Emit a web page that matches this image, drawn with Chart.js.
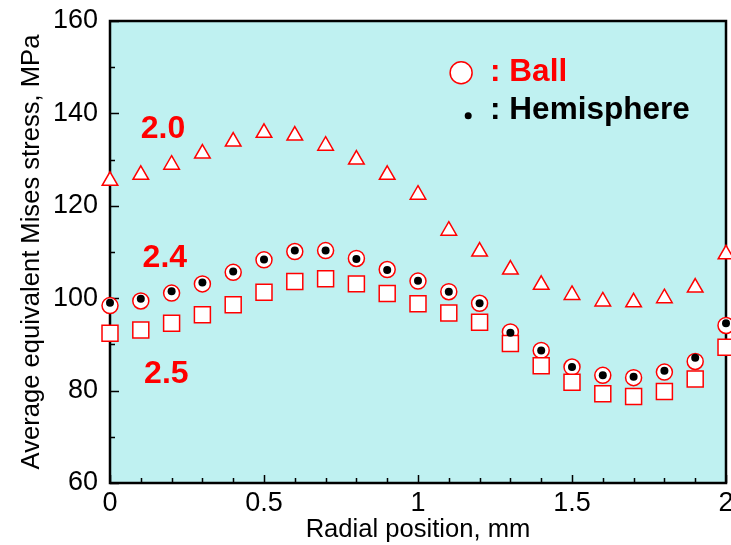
<!DOCTYPE html>
<html>
<head>
<meta charset="utf-8">
<script src="https://cdn.jsdelivr.net/npm/chart.js@4.4.1/dist/chart.umd.min.js"></script>
<style>
  html, body { margin: 0; padding: 0; background: #ffffff; }
  #wrap { width: 731px; height: 545px; }
</style>
</head>
<body>
<div id="wrap"><canvas id="stressChart" width="731" height="545"></canvas></div>
<script>
// Radial positions (mm)
const radialPos = [0, 0.1, 0.2, 0.3, 0.4, 0.5, 0.6, 0.7, 0.8, 0.9, 1.0,
                   1.1, 1.2, 1.3, 1.4, 1.5, 1.6, 1.7, 1.8, 1.9, 2.0];

// Average equivalent Mises stress (MPa)
const stress20 = [125.4, 126.7, 128.9, 131.3, 133.9, 135.8, 135.2, 133.0, 130.0, 126.7, 122.4,
                  114.6, 110.1, 106.2, 102.9, 100.7, 99.3, 99.1, 100.0, 102.3, 109.5];
const stress24Ball = [98.4, 99.4, 101.1, 103.1, 105.6, 108.3, 110.1, 110.3, 108.6, 106.2, 103.7,
                      101.4, 98.9, 92.7, 88.7, 85.1, 83.3, 82.8, 84.0, 86.3, 94.1];
const stress24Hemi = [99.0, 99.9, 101.5, 103.4, 105.8, 108.4, 110.3, 110.3, 108.5, 106.1, 103.8,
                      101.4, 98.9, 92.5, 88.7, 85.1, 83.3, 83.0, 84.3, 87.1, 94.6];
const stress25 = [92.4, 93.1, 94.6, 96.4, 98.6, 101.3, 103.6, 104.2, 103.1, 101.0, 98.8,
                  96.8, 94.8, 90.2, 85.4, 81.8, 79.3, 78.7, 79.8, 82.5, 89.4];

// Axis ranges and ticks
const xMin = 0, xMax = 2, xStep = 0.5, xMinorStep = 0.1;
const yMin = 60, yMax = 160, yStep = 20, yMinorStep = 10;

// Annotation texts placed in data coordinates
const seriesLabels = [
    { text: '2.0', x: 0.172, y: 136.6 },
    { text: '2.4', x: 0.178, y: 108.6 },
    { text: '2.5', x: 0.183, y: 83.6 }
];
const legendItems = [
    { text: ': Ball', x: 1.14, y: 148.8, color: '#ff0000' },
    { text: ': Hemisphere', x: 1.163, y: 140.6, color: '#000000' }
];

const RED = '#ff0000';
const FONT = '"Liberation Sans", Arial, sans-serif';

const toPoints = (ys) => radialPos.map((x, i) => ({ x: x, y: ys[i] }));

// Plot background, frame and inward ticks
const framePlugin = {
    id: 'frame',
    beforeDatasetsDraw(chart) {
        const { ctx, chartArea: a, scales } = chart;
        ctx.save();
        ctx.fillStyle = '#bff1f1';
        ctx.fillRect(a.left, a.top, a.right - a.left, a.bottom - a.top);

        ctx.strokeStyle = '#000000';
        ctx.lineWidth = 1.5;
        ctx.beginPath();
        for (let v = yMin; v <= yMax + 1e-9; v += yMinorStep) {
            const py = Math.round(scales.y.getPixelForValue(v)) + 0.5;
            const len = (Math.round(v) % yStep === 0) ? 9 : 5;
            ctx.moveTo(a.left, py);
            ctx.lineTo(a.left + len, py);
        }
        for (let i = 0; i <= Math.round((xMax - xMin) / xMinorStep); i++) {
            const v = xMin + i * xMinorStep;
            const px = Math.round(scales.x.getPixelForValue(v)) + 0.5;
            const len = (i % 5 === 0) ? 8 : 5;
            ctx.moveTo(px, a.bottom);
            ctx.lineTo(px, a.bottom - len);
        }
        ctx.stroke();

        ctx.lineWidth = 2.5;
        ctx.strokeRect(a.left, a.top, a.right - a.left, a.bottom - a.top);
        ctx.restore();
    },
    afterDatasetsDraw(chart) {
        const { ctx, scales } = chart;
        ctx.save();
        ctx.textBaseline = 'middle';

        // series labels
        ctx.font = 'bold 32px ' + FONT;
        ctx.fillStyle = RED;
        ctx.textAlign = 'center';
        seriesLabels.forEach(l => {
            ctx.fillText(l.text, scales.x.getPixelForValue(l.x), scales.y.getPixelForValue(l.y));
        });

        // legend
        const ball = legendItems[0];
        const hemi = legendItems[1];
        const bx = scales.x.getPixelForValue(ball.x);
        const by = scales.y.getPixelForValue(ball.y);
        ctx.beginPath();
        ctx.arc(bx, by, 11, 0, Math.PI * 2);
        ctx.fillStyle = '#ffffff';
        ctx.fill();
        ctx.strokeStyle = RED;
        ctx.lineWidth = 1.5;
        ctx.stroke();

        const hx = scales.x.getPixelForValue(hemi.x);
        const hy = scales.y.getPixelForValue(hemi.y);
        ctx.beginPath();
        ctx.arc(hx, hy + 5, 3.5, 0, Math.PI * 2);
        ctx.fillStyle = '#000000';
        ctx.fill();

        ctx.font = 'bold 31.5px ' + FONT;
        ctx.textAlign = 'left';
        ctx.fillStyle = ball.color;
        ctx.fillText(ball.text, bx + 29, by);
        ctx.fillStyle = hemi.color;
        ctx.fillText(hemi.text, bx + 29, hy);
        ctx.restore();
    }
};

const ctx = document.getElementById('stressChart').getContext('2d');
new Chart(ctx, {
    type: 'scatter',
    data: {
        datasets: [
            {
                label: '2.0',
                data: toPoints(stress20),
                pointStyle: 'triangle',
                pointRadius: 9,
                borderColor: RED,
                backgroundColor: '#ffffff',
                borderWidth: 1.5,
                order: 3
            },
            {
                label: '2.4 Ball',
                data: toPoints(stress24Ball),
                pointStyle: 'circle',
                pointRadius: 8,
                borderColor: RED,
                backgroundColor: '#ffffff',
                borderWidth: 1.5,
                order: 2
            },
            {
                label: '2.5',
                data: toPoints(stress25),
                pointStyle: 'rect',
                pointRadius: 11.3,
                borderColor: RED,
                backgroundColor: '#ffffff',
                borderWidth: 1.5,
                order: 1
            },
            {
                label: '2.4 Hemisphere',
                data: toPoints(stress24Hemi),
                pointStyle: 'circle',
                pointRadius: 4,
                borderWidth: 0,
                backgroundColor: '#000000',
                borderColor: '#000000',
                order: 0
            }
        ]
    },
    options: {
        responsive: false,
        animation: false,
        clip: false,
        layout: { autoPadding: false, padding: { left: 0, right: 5, top: 21, bottom: 0 } },
        plugins: {
            legend: { display: false },
            tooltip: { enabled: false }
        },
        scales: {
            x: {
                type: 'linear',
                min: xMin,
                max: xMax,
                grid: { display: false, drawTicks: false },
                border: { display: false },
                ticks: {
                    stepSize: xStep,
                    color: '#000000',
                    padding: 4,
                    font: { family: FONT, size: 27 },
                    callback: v => String(v)
                },
                title: {
                    display: true,
                    text: 'Radial position, mm',
                    color: '#000000',
                    font: { family: FONT, size: 25.6 },
                    padding: { top: 0, bottom: 0 }
                },
                afterFit: scale => {
                    scale.height = 62;
                    scale.paddingLeft = 0;
                    scale.paddingRight = 0;
                }
            },
            y: {
                type: 'linear',
                min: yMin,
                max: yMax,
                grid: { display: false, drawTicks: false },
                border: { display: false },
                ticks: {
                    stepSize: yStep,
                    color: '#000000',
                    padding: 12,
                    font: { family: FONT, size: 27 }
                },
                title: {
                    display: true,
                    text: 'Average equivalent Mises stress, MPa',
                    color: '#000000',
                    font: { family: FONT, size: 25.6 },
                    padding: { top: 17, bottom: 0 }
                },
                afterFit: scale => {
                    scale.width = 110;
                    scale.paddingTop = 0;
                    scale.paddingBottom = 0;
                }
            }
        }
    },
    plugins: [framePlugin]
});
</script>
</body>
</html>
